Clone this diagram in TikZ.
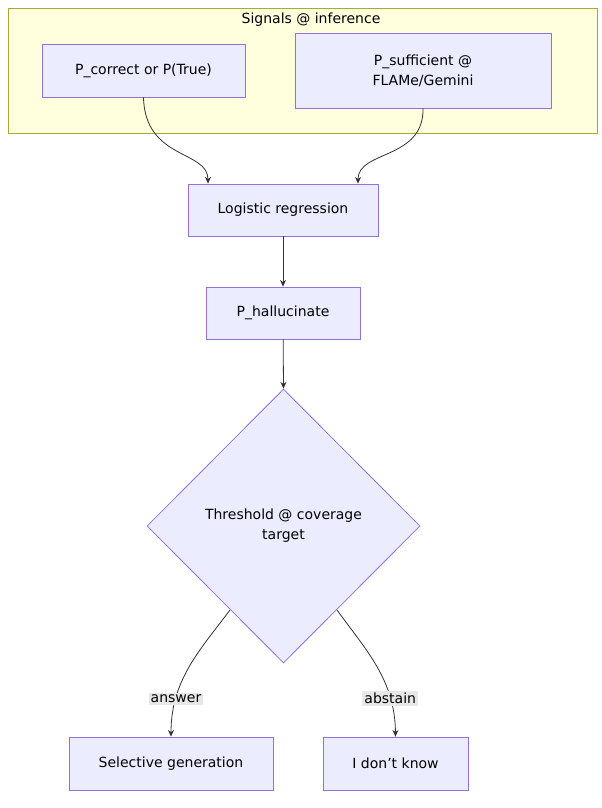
\documentclass[tikz,border=0pt]{standalone}
\usepackage{fontspec}
\setmainfont{DejaVu Sans}
\usetikzlibrary{arrows.meta,positioning,shapes.geometric}
\definecolor{boxfill}{HTML}{ECECFF}
\definecolor{boxline}{HTML}{9370DB}
\definecolor{clfill}{HTML}{FFFFDE}
\definecolor{clline}{HTML}{AAAA33}
\definecolor{edge}{HTML}{333333}
\definecolor{lblbg}{HTML}{E8E8E8}
\tikzset{
  box/.style={draw=boxline,fill=boxfill,line width=0.6pt,font=\fontsize{10.5}{15}\selectfont,align=center},
  flow/.style={draw=edge,line width=0.6pt,-{Stealth[length=5pt,width=4.5pt]}},
  lbl/.style={fill=lblbg,inner sep=1.5pt,font=\fontsize{10.5}{12}\selectfont}
}
\begin{document}
\begin{tikzpicture}[x=0.75pt,y=-0.75pt]
  \useasboundingbox (0,0) rectangle (602,808);
  % cluster
  \draw[fill=clfill,draw=clline,line width=0.6pt] (8,8) rectangle (597,133);
  \node[font=\fontsize{10.5}{12}\selectfont] (title) at (311,20) {Signals @ inference};
  % nodes
  \node[box,minimum width=203*0.75pt,minimum height=53*0.75pt] (pcorr) at (143.5,70.5) {P\_correct or P(True)};
  \node[box,minimum width=256*0.75pt,minimum height=75*0.75pt] (psuff) at (423,70.5) {P\_sufficient @\\FLAMe/Gemini};
  \node[box,minimum width=190*0.75pt,minimum height=52*0.75pt] (logreg) at (283,210) {Logistic regression};
  \node[box,minimum width=154*0.75pt,minimum height=52*0.75pt] (phall) at (283,313) {P\_hallucinate};
  \node[box,diamond,inner sep=0pt,minimum width=273*0.75pt,minimum height=274*0.75pt] (thr) at (283.5,526) {Threshold @ coverage\\target};
  \node[box,minimum width=204*0.75pt,minimum height=53*0.75pt] (selgen) at (171,763.5) {Selective generation};
  \node[box,minimum width=145*0.75pt,minimum height=53*0.75pt] (idk) at (395.5,763.5) {I don't know};
  % edges
  \draw[flow] (pcorr.south) .. controls (145,160) and (208,150) .. (logreg.north -| 208,0);
  \draw[flow] (psuff.south) .. controls (424,160) and (358,150) .. (logreg.north -| 358,0);
  \draw[flow] (logreg) -- (phall);
  \draw[flow] (phall) -- (thr.north);
  \coordinate (lft) at (230,610);
  \coordinate (rgt) at (337,610);
  \draw[flow] (lft) .. controls (200,650) and (171,680) .. node[lbl,pos=0.75] {answer} (selgen.north);
  \draw[flow] (rgt) .. controls (366,650) and (395,680) .. node[lbl,pos=0.75] {abstain} (idk.north);
\end{tikzpicture}
\end{document}
